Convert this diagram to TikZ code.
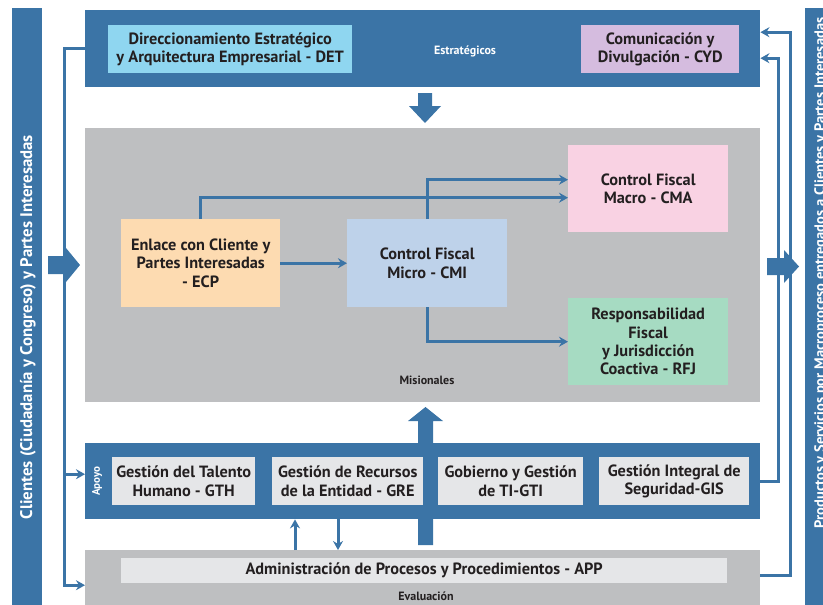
\documentclass[tikz,border=0pt]{standalone}
\usepackage{fontspec}
\setmainfont{PT Sans}
\usetikzlibrary{arrows.meta,calc}
\definecolor{bandblue}{RGB}{59,116,166}
\definecolor{midgray}{RGB}{190,191,193}
\definecolor{boxgray}{RGB}{229,230,232}
\definecolor{txtdark}{RGB}{35,31,32}
\definecolor{detfill}{RGB}{143,214,240}
\definecolor{cydfill}{RGB}{213,188,223}
\definecolor{ecpfill}{RGB}{253,219,177}
\definecolor{cmifill}{RGB}{190,210,234}
\definecolor{cmafill}{RGB}{249,210,227}
\definecolor{rfjfill}{RGB}{166,219,194}
\tikzset{
  band/.style={fill=#1,draw=none,inner sep=0pt,anchor=north west},
  procbox/.style={fill=#1,draw=none,inner sep=0pt,anchor=north west,align=center,text=txtdark,font=\bfseries\fontsize{16.3}{18.3}\selectfont},
  small/.style={font=\bfseries\fontsize{12}{13}\selectfont},
  conn/.style={draw=bandblue,line width=3pt,-{Stealth[length=9pt,width=10pt,inset=3pt]}},
  blockarrow/.style={fill=bandblue,draw=none}
}
\begin{document}
\begin{tikzpicture}[x=1pt,y=-1pt]
\useasboundingbox (0,0) rectangle (823,605);
% side bars
\node[band=bandblue,minimum width=30pt,minimum height=610pt] (lbar) at (12,8) {};
\node[band=bandblue,minimum width=32pt,minimum height=610pt] (rbar) at (805,8) {};
\node[rotate=90,text=white,font=\bfseries\fontsize{16.8}{18}\selectfont] (ltxt) at (28,327) {Clientes (Ciudadanía y Congreso) y Partes Interesadas};
\node[rotate=90,text=white,font=\bfseries\fontsize{14.5}{16}\selectfont] (rtxt) at (821,273) {Productos y Servicios por Macroproceso entregados a Clientes y Partes Interesadas};
% bands
\node[band=bandblue,minimum width=675pt,minimum height=77pt] (strat) at (85,10) {};
\node[band=midgray,minimum width=675pt,minimum height=274pt] (mis) at (85,128) {};
\node[band=bandblue,minimum width=675pt,minimum height=76pt] (apoyo) at (85,443) {};
\node[band=midgray,minimum width=675pt,minimum height=60pt] (eval) at (85,550) {};
% block arrows (behind boxes)
\fill[blockarrow] (418,93) -- (432,93) -- (432,106) -- (441,106) -- (425,123) -- (409,106) -- (418,106) -- cycle;
\fill[blockarrow] (418,545) -- (433,545) -- (433,421) -- (443,421) -- (425.5,407) -- (408,421) -- (418,421) -- cycle;
\fill[blockarrow] (48,256) -- (66,256) -- (66,248) -- (80,265) -- (66,282) -- (66,274) -- (48,274) -- cycle;
% labels
\node[small,text=white] (lstrat) at (465,51) {Estratégicos};
\node[small,text=txtdark] (lmis) at (427,380) {Misionales};
\node[small,text=white,rotate=90,font=\bfseries\fontsize{11}{12}\selectfont] (lapo) at (97,481) {Apoyo};
\node[small,text=txtdark] (leval) at (426,596) {Evaluación};
% strategic boxes
\node[procbox=detfill,minimum width=244pt,minimum height=48pt] (det) at (108,25) {Direccionamiento Estratégico\\y Arquitectura Empresarial - DET};
\node[procbox=cydfill,minimum width=158pt,minimum height=48pt] (cyd) at (581,25) {Comunicación y\\Divulgación - CYD};
% missional boxes
\node[procbox=ecpfill,minimum width=159pt,minimum height=88pt] (ecp) at (121,219) {Enlace con Cliente y\\Partes Interesadas\\- ECP};
\node[procbox=cmifill,minimum width=160pt,minimum height=88pt] (cmi) at (347,219) {Control Fiscal\\Micro - CMI};
\node[procbox=cmafill,minimum width=160pt,minimum height=87pt] (cma) at (568,145) {Control Fiscal\\Macro - CMA};
\node[procbox=rfjfill,minimum width=160pt,minimum height=87pt] (rfj) at (568,298) {Responsabilidad\\Fiscal\\y Jurisdicción\\Coactiva - RFJ};
% support boxes
\node[procbox=boxgray,minimum width=143pt,minimum height=48pt] (gth) at (112,457) {Gestión del Talento\\Humano - GTH};
\node[procbox=boxgray,minimum width=151pt,minimum height=48pt] (gre) at (272,457) {Gestión de Recursos\\de la Entidad - GRE};
\node[procbox=boxgray,minimum width=145pt,minimum height=48pt] (gti) at (438,457) {Gobierno y Gestión\\de TI-GTI};
\node[procbox=boxgray,minimum width=150pt,minimum height=48pt] (gis) at (599,457) {Gestión Integral de\\Seguridad-GIS};
% evaluation box
\node[procbox=boxgray,minimum width=606pt,minimum height=25pt] (app) at (121,558) {Administración de Procesos y Procedimientos - APP};
% missional connectors
\draw[conn] (ecp.east) -- (cmi.west);
\draw[conn] (ecp.north) |- ([yshift=-9pt]cma.west);
\draw[conn] (cmi.north) |- ([yshift=9pt]cma.west);
\draw[conn] (cmi.south) |- (rfj.west);
% left feedback
\coordinate (lx) at (64,0);
\draw[conn] (strat.west) -| ([yshift=-5pt]eval.west -| lx) -- ([yshift=-5pt]eval.west);
\draw[conn] ([yshift=7pt]apoyo.west -| lx) -- ([yshift=7pt]apoyo.west);
% right feedback
\coordinate (rx1) at (778,0);
\coordinate (rx2) at (790,0);
\draw[conn] (apoyo.east) -| ([yshift=-9.5pt]strat.east -| rx1) -- ([yshift=-9.5pt]strat.east);
\draw[conn] ([yshift=4.5pt]eval.east) -| ([yshift=16.5pt]strat.east -| rx2) -- ([yshift=16.5pt]strat.east);
% right block arrow over feedback lines
\fill[blockarrow] (767,258) -- (784,258) -- (784,250) -- (799,266.5) -- (784,283) -- (784,275) -- (767,275) -- cycle;
% small arrows apoyo/eval
\coordinate (ua) at (295,0);
\coordinate (da) at (338,0);
\draw[conn] (eval.north -| ua) -- (apoyo.south -| ua);
\draw[conn] (apoyo.south -| da) -- (eval.north -| da);
\end{tikzpicture}
\end{document}
